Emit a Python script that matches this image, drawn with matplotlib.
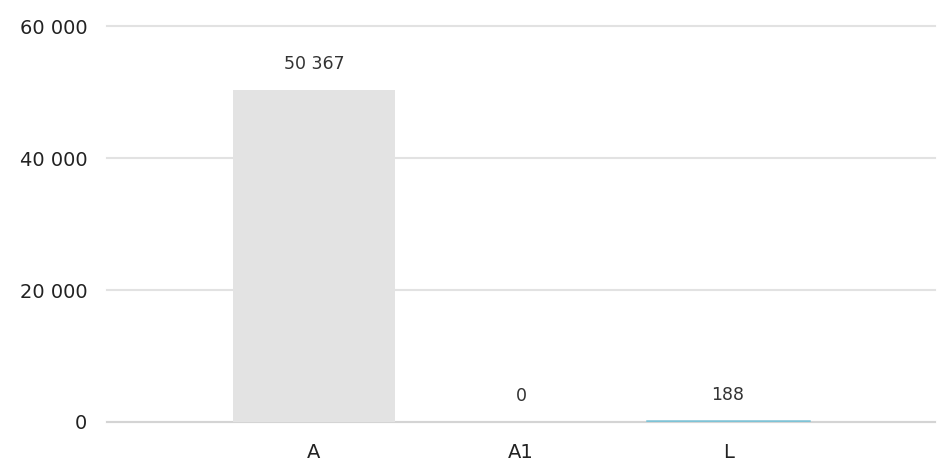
import matplotlib.pyplot as plt
from matplotlib.ticker import FuncFormatter

categories = ["A", "A1", "L"]
values = [50367, 0, 188]
bar_colors = ["#e3e3e3", "#e3e3e3", "#7ec3d6"]

y_ticks = [0, 20000, 40000, 60000]


def space_thousands(v, pos=None):
    return f"{int(v):,}".replace(",", " ")


fig = plt.figure(figsize=(9.38, 4.63), dpi=100)
ax = fig.add_axes([0.114, 0.0886, 0.883, 0.855])

x = range(len(categories))
# tiny bars get an outline so they stay visible, zero bars get none
edge_w = [1.8 if 0 < v < 1000 else 0 for v in values]
bars = ax.bar(x, values, width=0.78, color=bar_colors, edgecolor=bar_colors,
              linewidth=edge_w, zorder=3)

for b, v in zip(bars, values):
    ax.annotate(space_thousands(v), (b.get_x() + b.get_width() / 2, b.get_height()),
                xytext=(0, 12), textcoords="offset points",
                ha="center", va="bottom", fontsize=12.5, color="#333333")

ax.set_xlim(-1, 3)
ax.set_ylim(0, 60000)
ax.set_xticks(list(x))
ax.set_xticklabels(categories)
ax.set_yticks(y_ticks)
ax.yaxis.set_major_formatter(FuncFormatter(space_thousands))

ax.grid(axis="y", color="#e2e2e2", linewidth=1.5, zorder=0, clip_on=False)
ax.set_axisbelow(True)
for s in ["top", "right", "left"]:
    ax.spines[s].set_visible(False)
ax.spines["bottom"].set_color("#d4d4d4")
ax.spines["bottom"].set_linewidth(1.5)

ax.tick_params(axis="both", length=0, labelsize=14, colors="#222222")
ax.tick_params(axis="y", pad=14)
ax.tick_params(axis="x", pad=15)

fig.savefig("out.png", dpi=100)
